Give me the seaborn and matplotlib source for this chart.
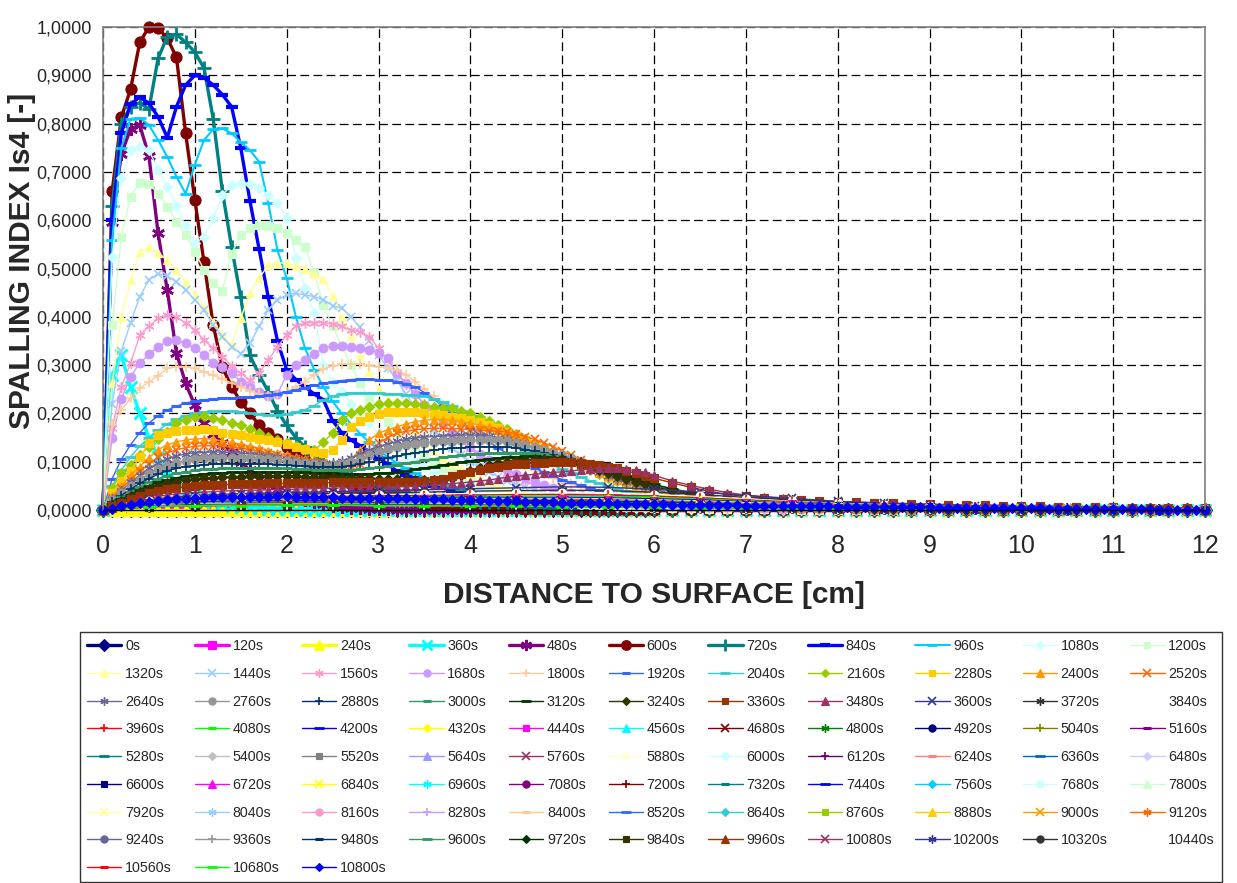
import numpy as np
import matplotlib
matplotlib.use("Agg")
import matplotlib.pyplot as plt
import seaborn as sns
from matplotlib.lines import Line2D

# ---------------- data (values in 1/1000 of the spalling index) ----------------
# depth grids [cm]
X_FINE = np.concatenate([np.round(np.arange(61) * 0.1, 1), np.round(6.2 + np.arange(30) * 0.2, 1)])  # 91 pts
X_FULL = np.round(np.arange(121) * 0.1, 1)   # 121 pts
X_LATE = np.round(np.arange(25) * 0.5, 1)    # 25 pts

TIMES = list(range(0, 10801, 120))
LABELS = [f"{t}s" for t in TIMES]

# ---- main series on X_FINE: rows 0-0.9, 1-1.9, ..., 5-5.9 | 6.0 | 6.2..8.0 | 8.2..10.0 | 10.2..12.0
V0000 = [0,0,0,0,0,0,0,0,0,0, 0,0,0,0,0,0,0,0,0,0, 0,0,0,0,0,0,0,0,0,0, 0,0,0,0,0,0,0,0,0,0, 0,0,0,0,0,0,0,0,0,0, 0,0,0,0,0,0,0,0,0,0, 0, 0,0,0,0,0,0,0,0,0,0, 0,0,0,0,0,0,0,0,0,0, 0,0,0,0,0,0,0,0,0,0]
V0120 = [0,0,0,0,0,0,0,0,0,0, 0,0,0,0,0,0,0,0,0,0, 0,0,0,0,0,0,0,0,0,0, 0,0,0,0,0,0,0,0,0,0, 0,0,0,0,0,0,0,0,0,0, 0,0,0,0,0,0,0,0,0,0, 0, 0,0,0,0,0,0,0,0,0,0, 0,0,0,0,0,0,0,0,0,0, 0,0,0,0,0,0,0,0,0,0]
V0240 = [0,0,0,0,0,0,0,0,0,0, 0,0,0,0,0,0,0,0,0,0, 0,0,0,0,0,0,0,0,0,0, 0,0,0,0,0,0,0,0,0,0, 0,0,0,0,0,0,0,0,0,0, 0,0,0,0,0,0,0,0,0,0, 0, 0,0,0,0,0,0,0,0,0,0, 0,0,0,0,0,0,0,0,0,0, 0,0,0,0,0,0,0,0,0,0]
V0360 = [0,280,320,255,200,150,110,80,58,42, 30,22,16,12,9,7,5,4,3,2, 2,1,1,1,1,1,0,0,0,0, 0,0,0,0,0,0,0,0,0,0, 0,0,0,0,0,0,0,0,0,0, 0,0,0,0,0,0,0,0,0,0, 0, 0,0,0,0,0,0,0,0,0,0, 0,0,0,0,0,0,0,0,0,0, 0,0,0,0,0,0,0,0,0,0]
V0480 = [0,597,737,789,797,733,573,455,325,262, 217,180,158,139,120,100,82,65,52,41, 32,25,20,16,12,9,7,5,4,3, 2,2,1,1,1,1,0,0,0,0, 0,0,0,0,0,0,0,0,0,0, 0,0,0,0,0,0,0,0,0,0, 0, 0,0,0,0,0,0,0,0,0,0, 0,0,0,0,0,0,0,0,0,0, 0,0,0,0,0,0,0,0,0,0]
V0600 = [0,660,813,871,968,1000,997,977,937,780, 642,513,383,296,255,224,200,176,160,146, 131,117,104,91,80,70,61,53,46,40, 35,30,26,22,19,16,14,12,10,9, 8,7,6,5,4,4,3,3,2,2, 2,2,1,1,1,1,1,1,1,0, 0, 0,0,0,0,0,0,0,0,0,0, 0,0,0,0,0,0,0,0,0,0, 0,0,0,0,0,0,0,0,0,0]
V0720 = [0,630,800,835,843,830,935,980,985,968, 948,915,810,660,545,440,320,280,245,205, 175,150,130,113,100,88,78,69,62,55, 50,45,40,36,32,28,25,22,20,18, 16,14,12,11,10,9,8,7,6,5, 5,4,4,3,3,3,2,2,2,2, 2, 1,1,1,1,0,0,0,0,0,0, 0,0,0,0,0,0,0,0,0,0, 0,0,0,0,0,0,0,0,0,0]
V0840 = [0,600,780,840,855,842,814,771,835,880, 900,895,880,860,835,750,640,540,440,350, 290,270,255,240,228,185,160,145,133,120, 108,95,80,72,66,58,50,45,40,35, 30,27,23,20,18,16,14,12,11,9, 8,7,6,6,5,4,4,3,3,3, 2, 2,1,1,1,1,0,0,0,0,0, 0,0,0,0,0,0,0,0,0,0, 0,0,0,0,0,0,0,0,0,0]
V0960 = [0,560,750,810,812,797,766,731,690,655, 715,766,788,790,780,762,745,721,635,538, 480,400,335,290,255,225,200,178,158,140, 125,110,97,86,76,67,60,53,47,42, 37,33,29,26,23,20,18,16,14,12, 11,10,9,8,7,6,5,5,4,4, 3, 3,2,2,1,1,1,1,1,0,0, 0,0,0,0,0,0,0,0,0,0, 0,0,0,0,0,0,0,0,0,0]
V1080 = [0,524,687,745,752,745,704,669,630,587, 552,565,604,652,673,678,675,666,652,636, 604,521,460,407,300,265,245,220,200,180, 160,143,127,112,99,88,78,69,61,54, 48,43,38,34,30,26,23,20,18,16, 14,12,11,10,9,8,7,6,5,5, 4, 4,3,3,2,2,2,1,1,1,1, 1,1,0,0,0,0,0,0,0,0, 0,0,0,0,0,0,0,0,0,0]
V1200 = [0,383,566,649,678,675,655,628,597,569, 535,497,469,454,531,569,583,590,588,583, 573,559,545,490,424,380,340,300,262,230, 205,182,160,141,125,110,98,87,77,68, 60,53,47,42,37,33,29,25,22,19, 17,15,13,12,10,9,8,7,6,6, 5, 4,4,3,3,2,2,2,1,1,1, 1,1,1,0,0,0,0,0,0,0, 0,0,0,0,0,0,0,0,0,0]
V1320 = [0,263,400,476,535,545,532,518,497,473, 445,421,390,362,342,397,450,480,507,512, 511,506,499,488,478,443,400,360,320,285, 250,228,200,178,157,140,122,108,96,85, 75,66,58,51,45,40,35,31,27,24, 21,19,16,14,12,11,10,9,8,7, 6, 5,4,4,3,3,2,2,2,1,1, 1,1,1,1,0,0,0,0,0,0, 0,0,0,0,0,0,0,0,0,0]
V1440 = [0,220,330,387,442,476,489,484,473,455, 435,414,383,359,338,324,345,380,414,435, 445,449,445,442,435,423,418,400,378,350, 320,295,268,240,212,188,165,145,128,113, 100,88,78,69,61,54,48,42,37,33, 29,26,23,20,18,16,14,12,11,10, 8, 7,6,5,4,3,3,2,2,2,1, 1,1,1,1,1,0,0,0,0,0, 0,0,0,0,0,0,0,0,0,0]
V1560 = [0,170,255,304,362,380,397,404,400,387, 373,352,335,317,299,283,269,283,310,338, 362,380,387,388,388,385,380,373,369,359, 335,310,283,260,240,220,200,180,160,142, 126,112,99,88,77,68,60,53,47,41, 36,32,28,25,22,19,17,15,13,11, 10, 8,7,6,5,4,3,3,2,2,2, 1,1,1,1,1,1,0,0,0,0, 0,0,0,0,0,0,0,0,0,0]
V1680 = [0,150,230,276,304,322,338,349,351,345, 335,321,304,297,283,266,255,245,235,240, 280,300,310,324,335,340,340,338,335,331, 326,314,283,262,240,218,197,178,160,145, 130,116,104,93,83,74,66,59,52,46, 41,36,32,28,25,22,19,17,15,13, 12, 10,8,7,6,5,4,3,3,2,2, 2,1,1,1,1,1,1,0,0,0, 0,0,0,0,0,0,0,0,0,0]
V1800 = [0,179,207,231,252,265,278,293,297,297, 293,286,279,271,263,255,247,240,236,238, 245,255,266,280,292,298,302,302,302,299, 297,293,290,280,265,250,235,218,200,185, 170,155,140,127,115,103,93,83,74,66, 59,53,47,42,37,33,29,26,23,20, 18, 15,12,10,8,7,6,5,4,3,3, 2,2,2,1,1,1,1,1,1,0, 0,0,0,0,0,0,0,0,0,0]
V1920 = [0,65,105,135,160,180,195,207,215,221, 226,228,230,231,232,233,234,236,238,241, 245,249,253,258,262,266,268,270,271,271, 270,269,266,261,255,243,230,215,200,185, 170,156,142,129,117,106,96,87,78,70, 63,57,51,46,41,37,33,29,26,23, 21, 17,14,11,9,7,6,5,4,3,3, 2,2,2,1,1,1,1,1,1,1, 0,0,0,0,0,0,0,0,0,0]
V2040 = [0,50,82,110,132,150,165,178,188,195, 200,203,205,205,204,202,200,198,197,197, 199,203,208,216,228,236,240,243,243,243, 242,241,240,239,238,235,230,223,215,205, 195,184,172,160,148,136,125,114,103,93, 84,76,68,61,55,49,44,39,35,31, 27, 22,18,15,12,10,8,6,5,4,3, 3,2,2,2,1,1,1,1,1,1, 1,0,0,0,0,0,0,0,0,0]
V2160 = [0,45,76,93,114,131,148,162,180,186, 192,195,190,186,181,175,168,160,152,145, 138,132,127,124,140,160,186,200,207,214, 219,221,222,221,219,217,214,212,211,206, 200,193,185,177,168,158,148,138,128,118, 108,99,90,82,74,67,60,54,48,43, 38, 30,23,18,14,10,8,6,5,4,3, 2,2,2,1,1,1,1,1,1,1, 1,0,0,0,0,0,0,0,0,0]
V2280 = [0,35,60,80,110,138,155,160,163,165, 166,167,165,159,157,155,152,148,144,140, 136,131,126,121,117,125,145,172,185,193, 199,202,202,202,202,200,199,197,193,190, 186,182,177,170,162,154,145,136,127,118, 109,100,92,84,76,69,62,56,50,45, 40, 32,25,19,15,11,9,7,5,4,3, 3,2,2,2,1,1,1,1,1,1, 1,0,0,0,0,0,0,0,0,0]
V2400 = [0,28,50,72,90,108,125,135,141,145, 147,148,146,143,140,136,132,128,123,118, 114,110,106,103,100,98,97,105,125,145, 159,166,172,178,183,186,187,187,186,183, 180,176,172,166,160,153,145,137,128,119, 110,101,93,85,77,70,63,57,51,46, 41, 32,25,19,15,11,9,7,5,4,3, 3,2,2,1,1,1,1,1,1,0, 0,0,0,0,0,0,0,0,0,0]
V2520 = [0,25,45,63,80,95,110,118,125,129, 132,133,133,132,130,128,125,122,118,114, 110,106,103,100,97,94,92,91,95,115, 138,150,159,163,166,168,169,169,169,168, 166,165,164,163,162,158,152,146,139,131, 122,113,104,96,88,80,73,66,60,54, 49, 39,31,24,19,15,11,9,7,5,4, 3,3,2,2,1,1,1,1,1,1, 0,0,0,0,0,0,0,0,0,0]
V2640 = [0,22,40,57,72,86,98,106,112,116, 118,119,120,120,119,118,116,114,112,109, 106,103,100,98,97,98,102,108,116,124, 131,137,142,146,149,151,152,153,154,155, 155,155,153,150,146,141,135,128,121,114, 107,99,92,85,78,71,65,59,53,48, 43, 34,27,21,16,12,9,7,5,4,3, 2,2,2,1,1,1,1,0,0,0, 0,0,0,0,0,0,0,0,0,0]
V2760 = [0,20,35,50,63,75,85,92,98,102, 105,107,108,108,108,107,107,106,105,103, 101,99,97,95,94,94,96,100,106,113, 120,127,131,134,137,139,141,142,143,144, 145,145,145,144,142,139,135,130,125,119, 113,107,100,93,86,79,72,66,60,54, 49, 39,31,24,19,15,11,9,7,5,4, 3,2,2,1,1,1,1,1,0,0, 0,0,0,0,0,0,0,0,0,0]
V2880 = [0,17,30,43,55,65,74,81,86,90, 92,94,95,96,96,96,96,95,95,94, 93,92,91,90,89,89,90,92,95,99, 103,107,111,115,118,121,124,126,128,129, 130,131,131,131,130,128,125,122,118,114, 110,105,99,93,87,81,75,69,63,57, 52, 42,34,27,21,16,12,9,7,5,4, 3,3,2,2,1,1,1,1,1,0, 0,0,0,0,0,0,0,0,0,0]
V3000 = [0,15,26,37,48,57,65,71,76,79, 82,84,85,86,87,87,87,87,87,86, 86,85,84,83,82,82,82,83,84,86, 88,91,94,97,100,103,106,109,111,113, 115,116,117,118,119,119,118,117,115,112, 108,104,99,94,88,82,76,70,64,58, 52, 43,35,28,22,17,13,10,8,6,5, 4,3,2,2,1,1,1,1,1,1, 0,0,0,0,0,0,0,0,0,0]
V3120 = [0,12,22,32,42,50,57,62,67,70, 73,75,76,77,78,78,79,79,79,79, 79,78,78,77,76,76,75,75,75,75, 76,77,79,81,84,87,90,93,96,99, 102,104,106,108,109,110,111,111,110,108, 105,101,97,92,87,82,76,70,64,58, 53, 44,36,29,23,18,14,11,8,6,5, 4,3,2,2,1,1,1,1,1,1, 1,0,0,0,0,0,0,0,0,0]
V3240 = [0,10,19,28,37,44,50,55,59,62, 64,66,67,68,69,69,70,70,70,70, 70,70,69,69,68,68,67,67,66,66, 65,65,64,64,63,63,62,63,66,72, 80,87,93,97,100,102,104,105,106,106, 105,100,94,88,82,76,70,64,58,53, 48, 40,33,27,22,17,13,10,8,6,5, 4,3,3,2,2,1,1,1,1,1, 1,1,0,0,0,0,0,0,0,0]
V3360 = [0,8,15,23,30,35,40,43,46,48, 50,51,52,52,53,53,54,54,55,55, 55,55,56,56,56,57,57,57,57,58, 58,58,58,59,59,60,62,65,70,74, 78,82,86,90,93,95,96,97,98,99, 100,99,98,96,93,90,86,81,76,71, 66, 56,47,39,32,28,25,22,20,18,17, 16,15,14,13,12,11,10,10,9,8, 8,7,7,6,6,5,5,4,4,4]
V3480 = [0,5,10,15,20,24,28,31,33,35, 36,37,38,39,40,40,41,41,42,42, 43,43,44,44,45,45,46,46,46,47, 47,47,48,48,49,50,52,53,55,56, 58,60,62,65,68,70,72,74,76,78, 79,81,83,85,86,86,86,84,82,78, 72, 60,51,43,36,31,27,24,21,19,17, 16,15,14,13,12,11,10,10,9,8, 8,7,7,6,6,5,5,4,4,4]

# ---- last series on X_FULL (every 0.1 cm)
V10800 = [0,3,8,10,14,17,19,20,22,23, 24,25,26,27,27,27,27,27,27,28, 28,27,27,26,26,26,25,25,25,25,
          25,24,24,24,23,23,22,22,21,21, 20,20,19,19,18,18,17,17,16,16, 15,15,15,14,14,14,13,13,13,12,
          12,12,11,11,11,11,10,10,10,10, 9,9,9,9,9,8,8,8,8,8, 7,7,7,7,7,6,6,6,6,6,
          6,5,5,5,5,5,5,4,4,4, 4,4,4,3,3,3,3,3,3,2, 2,2,2,2,2,1,1,1,1,1, 0]

# ---- late, low series on X_LATE (every 0.5 cm)
V3600 = [0,22,30,34,36,38,40,42,44,46,48,47,43,37,30,24,18,14,11,8,6,5,4,3,2]
V3720 = [0,20,27,30,32,34,36,37,39,40,41,40,37,32,26,21,16,12,9,7,5,4,3,2,2]
V3840 = [0,18,24,27,29,30,32,33,34,35,36,35,32,28,23,18,14,11,8,6,5,4,3,2,2]
V3960 = [0,17,22,25,27,28,29,30,31,32,32,31,29,25,21,17,13,10,8,6,4,3,3,2,1]
V4080 = [0,16,21,23,25,26,27,28,28,29,29,28,26,23,19,15,12,9,7,5,4,3,2,2,1]
V4200 = [0,15,20,22,23,24,25,26,26,26,26,25,23,21,17,14,11,8,6,5,4,3,2,2,1]
V4320 = [0,15,19,21,22,23,23,24,24,24,24,23,21,19,16,13,10,8,6,4,3,3,2,1,1]
V4440 = [0,14,18,20,21,22,22,22,22,22,22,21,19,17,14,12,9,7,5,4,3,2,2,1,1]
V4560 = [0,14,17,19,20,21,21,21,21,21,20,19,18,16,13,11,9,7,5,4,3,2,2,1,1]
V4680 = [0,13,17,18,19,20,20,20,20,20,19,18,17,15,12,10,8,6,5,4,3,2,2,1,1]
V4800 = [0,13,16,18,19,19,19,19,19,19,18,17,16,14,12,9,8,6,5,3,3,2,1,1,1]
V4920 = [0,13,16,17,18,18,18,18,18,18,17,16,15,13,11,9,7,6,4,3,3,2,1,1,1]
V5040 = [0,12,15,17,17,18,18,18,17,17,16,16,14,12,10,8,7,5,4,3,2,2,1,1,1]
V5160 = [0,12,15,16,17,17,17,17,17,16,16,15,13,12,10,8,6,5,4,3,2,2,1,1,1]
V5280 = [0,12,15,16,17,17,17,17,16,16,15,14,13,11,9,8,6,5,4,3,2,2,1,1,1]
V5400 = [0,12,14,16,16,16,16,16,16,15,15,14,12,11,9,7,6,5,4,3,2,1,1,1,1]
V5520 = [0,11,14,15,16,16,16,16,15,15,14,13,12,10,9,7,6,4,3,3,2,1,1,1,0]
V5640 = [0,11,14,15,16,16,16,15,15,14,14,13,11,10,8,7,5,4,3,2,2,1,1,1,0]
V5760 = [0,11,14,15,15,15,15,15,15,14,13,12,11,10,8,7,5,4,3,2,2,1,1,1,0]
V5880 = [0,11,13,15,15,15,15,15,14,14,13,12,11,9,8,6,5,4,3,2,2,1,1,1,0]
V6000 = [0,11,13,14,15,15,15,14,14,13,13,12,10,9,8,6,5,4,3,2,2,1,1,0,0]
V6120 = [0,11,14,15,16,16,15,15,15,14,14,13,13,12,11,10,9,8,7,5,4,4,3,2,2]
V6240 = [0,11,14,15,15,15,15,15,14,14,14,13,12,12,11,10,9,8,6,5,4,3,3,2,2]
V6360 = [0,11,14,15,15,15,15,15,14,14,13,13,12,11,10,9,8,7,6,5,4,3,3,2,1]
V6480 = [0,10,13,15,15,15,15,14,14,14,13,12,12,11,10,9,8,7,6,5,4,3,2,2,1]
V6600 = [0,10,13,14,15,15,15,14,14,13,13,12,11,11,10,9,8,7,6,5,4,3,2,2,1]
V6720 = [0,10,13,14,15,15,14,14,14,13,13,12,11,10,10,9,8,7,6,5,4,3,2,2,1]
V6840 = [0,10,13,14,14,14,14,14,13,13,12,12,11,10,9,8,7,6,5,5,4,3,2,2,1]
V6960 = [0,10,13,14,14,14,14,14,13,13,12,11,11,10,9,8,7,6,5,4,4,3,2,2,1]
V7080 = [0,10,12,14,14,14,14,13,13,12,12,11,10,10,9,8,7,6,5,4,3,3,2,2,1]
V7200 = [0,10,12,13,14,14,14,13,13,12,12,11,10,9,9,8,7,6,5,4,3,3,2,2,1]
V7320 = [0,9,12,13,14,14,13,13,13,12,11,11,10,9,8,8,7,6,5,4,3,3,2,2,1]
V7440 = [0,9,12,13,13,13,13,13,12,12,11,10,10,9,8,7,6,6,5,4,3,3,2,1,1]
V7560 = [0,9,12,13,13,13,13,13,12,12,11,10,10,9,8,7,6,5,5,4,3,2,2,1,1]
V7680 = [0,9,12,13,13,13,13,12,12,11,11,10,9,9,8,7,6,5,4,4,3,2,2,1,1]
V7800 = [0,9,12,13,13,13,13,12,12,11,11,10,9,8,8,7,6,5,4,4,3,2,2,1,1]
V7920 = [0,9,11,12,13,13,13,12,12,11,10,10,9,8,7,7,6,5,4,3,3,2,2,1,1]
V8040 = [0,9,11,12,13,13,12,12,12,11,10,10,9,8,7,6,6,5,4,3,3,2,2,1,1]
V8160 = [0,9,11,12,12,12,12,12,11,11,10,9,9,8,7,6,5,5,4,3,3,2,2,1,1]
V8280 = [0,9,11,12,12,12,12,12,11,11,10,9,9,8,7,6,5,5,4,3,3,2,1,1,1]
V8400 = [0,8,11,12,12,12,12,12,11,10,10,9,8,8,7,6,5,4,4,3,2,2,1,1,1]
V8520 = [0,8,11,12,12,12,12,11,11,10,10,9,8,7,7,6,5,4,4,3,2,2,1,1,1]
V8640 = [0,8,11,12,12,12,12,11,11,10,9,9,8,7,6,6,5,4,3,3,2,2,1,1,1]
V8760 = [0,8,11,11,12,12,11,11,11,10,9,9,8,7,6,5,5,4,3,3,2,2,1,1,1]
V8880 = [0,8,10,11,12,12,11,11,10,10,9,8,8,7,6,5,5,4,3,3,2,2,1,1,1]
V9000 = [0,8,10,11,12,11,11,11,10,10,9,8,7,7,6,5,4,4,3,2,2,2,1,1,1]
V9120 = [0,8,10,11,11,11,11,11,10,9,9,8,7,7,6,5,4,4,3,2,2,1,1,1,1]
V9240 = [0,8,10,11,11,11,11,11,10,9,9,8,7,6,6,5,4,3,3,2,2,1,1,1,0]
V9360 = [0,8,10,11,11,11,11,10,10,9,8,8,7,6,5,5,4,3,3,2,2,1,1,1,0]
V9480 = [0,8,10,11,11,11,11,10,10,9,8,8,7,6,5,5,4,3,3,2,2,1,1,1,0]
V9600 = [0,7,10,11,11,11,10,10,10,9,8,7,7,6,5,4,4,3,3,2,2,1,1,1,0]
V9720 = [0,7,10,10,11,11,10,10,9,9,8,7,7,6,5,4,4,3,2,2,2,1,1,1,0]
V9840 = [0,7,10,10,11,10,10,10,9,9,8,7,6,6,5,4,4,3,2,2,1,1,1,1,0]
V9960 = [0,7,9,10,10,10,10,10,9,8,8,7,6,6,5,4,3,3,2,2,1,1,1,1,0]
V10080 = [0,7,9,10,10,10,10,10,9,8,8,7,6,5,5,4,3,3,2,2,1,1,1,1,0]
V10200 = [0,7,9,10,10,10,10,9,9,8,7,7,6,5,5,4,3,3,2,2,1,1,1,0,0]
V10320 = [0,7,9,10,10,10,10,9,9,8,7,7,6,5,4,4,3,3,2,2,1,1,1,0,0]
V10440 = [0,7,9,10,10,10,9,9,9,8,7,6,6,5,4,4,3,2,2,2,1,1,1,0,0]
V10560 = [0,7,9,10,10,10,9,9,8,8,7,6,6,5,4,4,3,2,2,1,1,1,1,0,0]
V10680 = [0,7,9,9,10,10,9,9,8,8,7,6,6,5,4,3,3,2,2,1,1,1,1,0,0]

SERIES_VALUES = [
    V0000, V0120, V0240, V0360, V0480, V0600, V0720, V0840, V0960, V1080, V1200,
    V1320, V1440, V1560, V1680, V1800, V1920, V2040, V2160, V2280, V2400, V2520,
    V2640, V2760, V2880, V3000, V3120, V3240, V3360, V3480, V3600, V3720, V3840,
    V3960, V4080, V4200, V4320, V4440, V4560, V4680, V4800, V4920, V5040, V5160,
    V5280, V5400, V5520, V5640, V5760, V5880, V6000, V6120, V6240, V6360, V6480,
    V6600, V6720, V6840, V6960, V7080, V7200, V7320, V7440, V7560, V7680, V7800,
    V7920, V8040, V8160, V8280, V8400, V8520, V8640, V8760, V8880, V9000, V9120,
    V9240, V9360, V9480, V9600, V9720, V9840, V9960, V10080, V10200, V10320, V10440,
    V10560, V10680, V10800,
]
GRIDS = {len(X_FINE): X_FINE, len(X_FULL): X_FULL, len(X_LATE): X_LATE}

# ---------------- styles (Excel 2003 automatic series styles) ----------------
PAL_A = ['#000080', '#FF00FF', '#FFFF00', '#00FFFF', '#800080', '#800000', '#008080', '#0000FF',
         '#00CCFF', '#CCFFFF', '#CCFFCC', '#FFFF99', '#99CCFF', '#FF99CC', '#CC99FF', '#FFCC99',
         '#3366FF', '#33CCCC', '#99CC00', '#FFCC00', '#FF9900', '#FF6600', '#666699', '#969696',
         '#003366', '#339966', '#003300', '#333300', '#993300', '#993366', '#333399', '#333333']
PAL_B = ['#FFFFFF', '#FF0000', '#00FF00', '#0000FF', '#FFFF00', '#FF00FF', '#00FFFF', '#800000',
         '#008000', '#000080', '#808000', '#800080', '#008080', '#C0C0C0', '#808080', '#9999FF',
         '#993366', '#FFFFCC', '#CCFFFF', '#660066', '#FF8080', '#0066CC', '#CCCCFF']
COLORS = (PAL_A + PAL_B + PAL_A + PAL_B)[:len(TIMES)]


def marker_kw(k, color, legend=False):
    m = k % 9
    big = k < 8
    ms = 8.0 if big else 6.3
    if legend:
        ms = 7.0 if big else 5.2
    kw = dict(markerfacecolor=color, markeredgecolor=color)
    if m == 0:
        kw.update(marker='D', markersize=ms * 0.85, markeredgewidth=0.8)
    elif m == 1:
        kw.update(marker='s', markersize=ms * 0.85, markeredgewidth=0.8)
    elif m == 2:
        kw.update(marker='^', markersize=ms, markeredgewidth=0.8)
    elif m == 3:
        kw.update(marker='x', markersize=ms, markeredgewidth=2.0 if big else 1.2)
    elif m == 4:
        kw.update(marker=(6, 2, 0), markersize=ms * 1.15, markeredgewidth=1.8 if big else 1.0)
    elif m == 5:
        kw.update(marker='o', markersize=ms, markeredgewidth=0.8)
    elif m == 6:
        kw.update(marker='+', markersize=ms * 1.2, markeredgewidth=2.0 if big else 1.2)
    elif m == 7:
        kw.update(marker='_', markersize=ms * 1.1, markeredgewidth=3.0 if big else 2.2)
    else:
        kw.update(marker='_', markersize=ms * 1.4, markeredgewidth=2.4 if big else 2.0)
    return kw


def line_width(k):
    if k < 8:
        return 2.4
    if k == 8:
        return 1.5
    return 1.0


# ---------------- figure ----------------
sns.set_style("white")
plt.rcParams['font.family'] = ['Liberation Sans', 'DejaVu Sans']

W, H = 1237, 883
fig = plt.figure(figsize=(W / 100, H / 100), dpi=100)
ax = fig.add_axes([103 / W, 1 - 510 / H, (1205 - 103) / W, (510 - 27) / H])

handles = []
for k, (lab, vals) in enumerate(zip(LABELS, SERIES_VALUES)):
    xs = GRIDS[len(vals)]
    ys = np.asarray(vals, dtype=float) / 1000.0
    c = COLORS[k]
    sns.lineplot(x=xs, y=ys, ax=ax, color=c, linewidth=line_width(k),
                 estimator=None, sort=False, legend=False, clip_on=False,
                 **marker_kw(k, c))
    handles.append(Line2D([], [], color=c, linewidth=line_width(k), **marker_kw(k, c, legend=True)))

ax.set_xlim(0, 12)
ax.set_ylim(0, 1.0)
ax.set_xticks(range(0, 13))
yt = np.round(np.arange(0, 1.0001, 0.1), 1)
ax.set_yticks(yt)
ax.set_yticklabels([f"{v:.4f}".replace('.', ',') for v in yt])
ax.tick_params(axis='x', labelsize=18, pad=12, length=5, direction='out', color='black')
ax.tick_params(axis='y', labelsize=13, pad=4, length=4, direction='out', color='#808080')
ax.set_xlabel('')
ax.set_ylabel('')
ax.grid(True, color='black', linestyle=(0, (7, 3.5)), linewidth=0.9)
ax.set_axisbelow(True)
for s in ['left', 'top', 'right']:
    ax.spines[s].set_color('#808080')
    ax.spines[s].set_linewidth(1.2)
ax.spines['bottom'].set_color('black')
ax.spines['bottom'].set_linewidth(1.0)

fig.text(22 / W, 1 - 261 / H, 'SPALLING INDEX Is4 [-]', rotation=90, ha='center', va='center',
         fontsize=21.5, fontweight='bold')
fig.text(654 / W, 1 - 595 / H, 'DISTANCE TO SURFACE [cm]', ha='center', va='center',
         fontsize=21.5, fontweight='bold')

# legend: row-major order like Excel, 11 columns
ncol = 11
n = len(handles)
order = [c + ncol * r for c in range(ncol) for r in range(9) if c + ncol * r < n]
leg = fig.legend([handles[i] for i in order], [LABELS[i] for i in order], ncol=ncol,
                 loc='upper left', bbox_to_anchor=(80 / W, 1 - 882 / H, 1142 / W, 250 / H),
                 mode='expand', fontsize=10.3, frameon=True, fancybox=False,
                 edgecolor='black', handlelength=2.4, handletextpad=0.25, labelspacing=0.96,
                 borderaxespad=0, borderpad=0.5, columnspacing=0.6, numpoints=1)
leg.get_frame().set_linewidth(1.0)

fig.savefig('out.png', dpi=100)
